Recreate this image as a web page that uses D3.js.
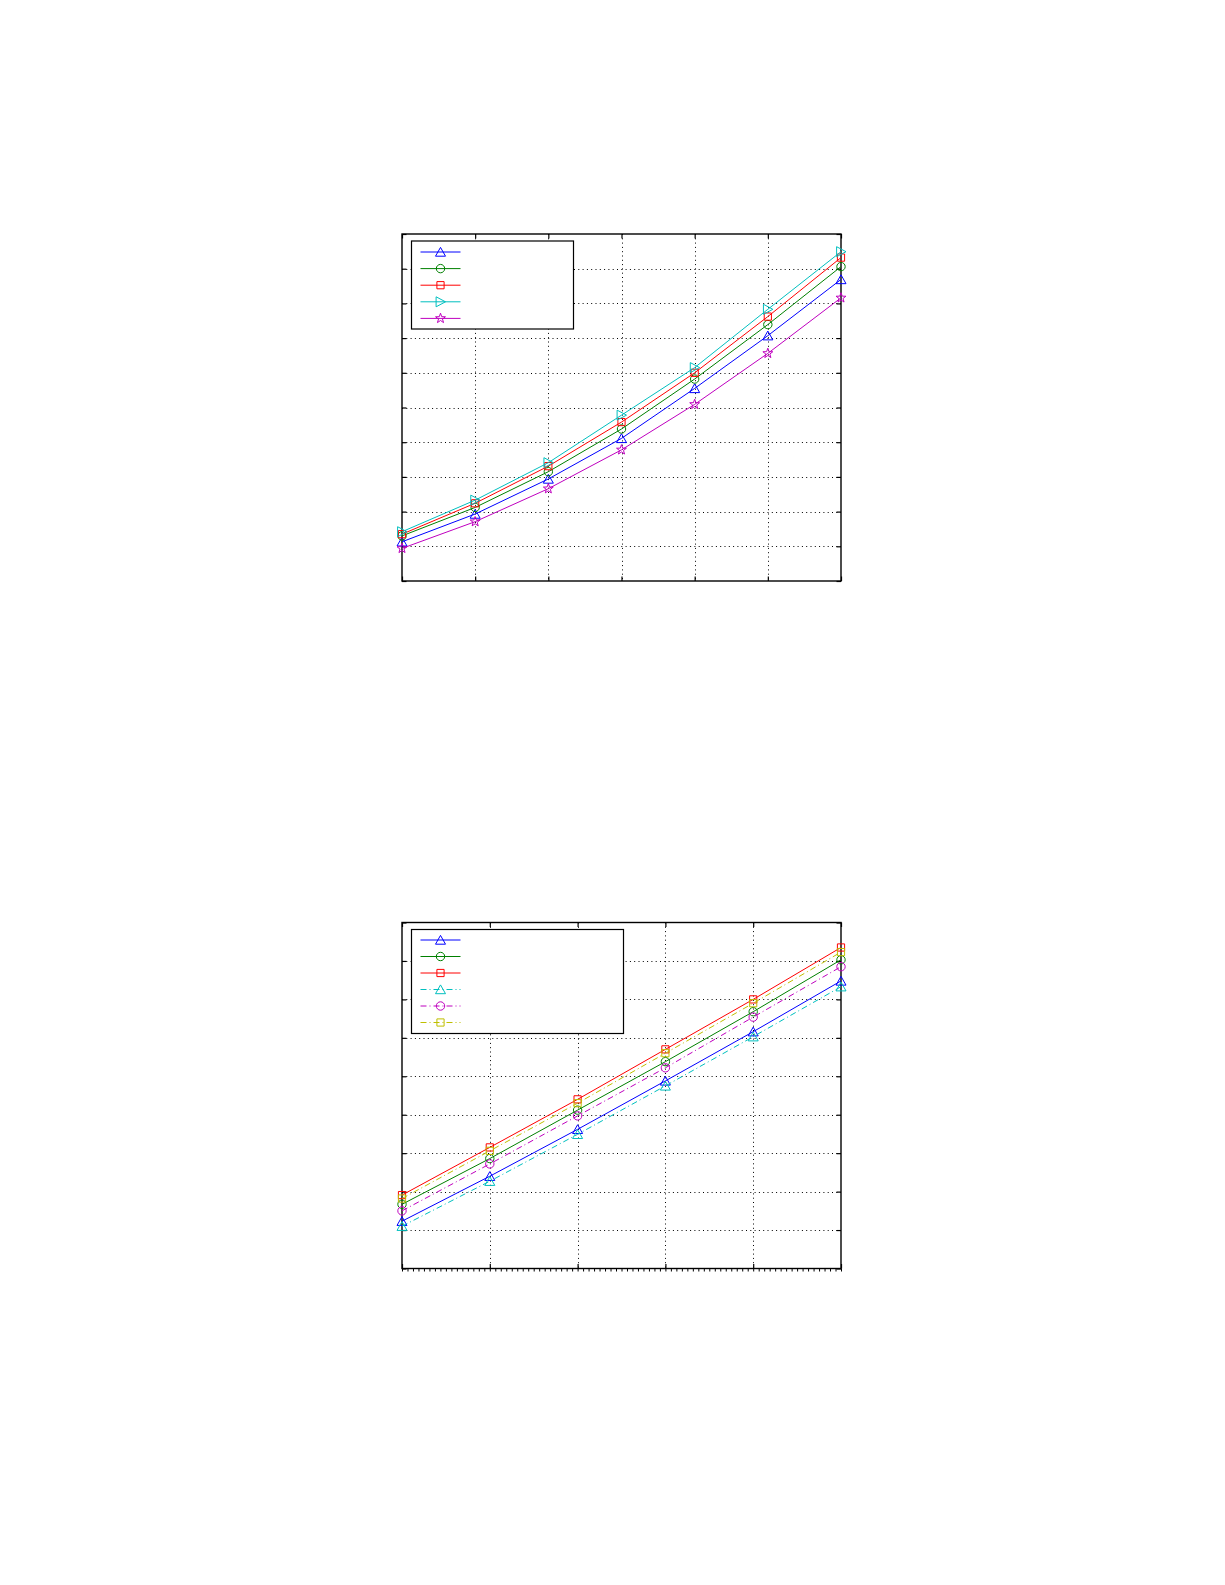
<!DOCTYPE html>
<html><head><meta charset="utf-8">
<script src="https://cdn.jsdelivr.net/npm/d3@7"></script>
<style>html,body{margin:0;padding:0;background:#fff}svg{display:block}</style>
</head><body>
<script>
// ---------- data ----------
const topX = [0, 1, 2, 3, 4, 5, 6];
const topBlue    = [1.13, 1.93, 2.94, 4.11, 5.55, 7.07, 8.69];
const topGreen   = [1.30, 2.12, 3.15, 4.38, 5.82, 7.39, 9.06];
const topRed     = [1.35, 2.24, 3.31, 4.58, 6.00, 7.62, 9.32];
const topCyan    = [1.42, 2.33, 3.41, 4.78, 6.15, 7.83, 9.49];
const topMagenta = [0.94, 1.71, 2.66, 3.78, 5.09, 6.56, 8.16];
const topXTicks = [0, 1, 2, 3, 4, 5, 6];
const topYTicks = [0, 1, 2, 3, 4, 5, 6, 7, 8, 9, 10];

const botX = [0, 1, 2, 3, 4, 5];
const botBlue    = [1.23, 2.40, 3.62, 4.88, 6.16, 7.48];
const botGreen   = [1.67, 2.86, 4.12, 5.38, 6.68, 8.03];
const botRed     = [1.91, 3.15, 4.40, 5.70, 7.00, 8.35];
const botCyan    = [1.10, 2.27, 3.49, 4.75, 6.03, 7.33];
const botMagenta = [1.50, 2.72, 3.97, 5.22, 6.54, 7.85];
const botYellow  = [1.82, 3.06, 4.30, 5.60, 6.90, 8.23];
const botXTicks = [0, 1, 2, 3, 4, 5];
const botYTicks = [0, 1, 2, 3, 4, 5, 6, 7, 8, 9];

// ---------- styles ----------
const C = {blue:"#0000ff", green:"#008000", red:"#ff0000", cyan:"#00bfbf", magenta:"#bf00bf", yellow:"#bfbf00"};
const DASHDOT = "6,3,1,3";

const markers = {
  triUp: "M0,-4.6L5,4.2L-5,4.2Z",
  triRight: "M5,0L-4.4,-5L-4.4,5Z",
  square: "M-3.6,-3.6H3.6V3.6H-3.6Z",
  circle: d3.symbol(d3.symbolCircle, Math.PI*4.2*4.2)(),
  star: (function(){ const p=d3.path(); for(let i=0;i<10;i++){const r=i%2?2.1:5.2; const a=-Math.PI/2+i*Math.PI/5; const x=r*Math.cos(a), y=r*Math.sin(a); i?p.lineTo(x,y):p.moveTo(x,y);} p.closePath(); return p.toString(); })()
};

const topSeries = [
  {v: topBlue,    color: C.blue,    marker: "triUp",    dash: null},
  {v: topGreen,   color: C.green,   marker: "circle",   dash: null},
  {v: topRed,     color: C.red,     marker: "square",   dash: null},
  {v: topCyan,    color: C.cyan,    marker: "triRight", dash: null},
  {v: topMagenta, color: C.magenta, marker: "star",     dash: null}
];
const botSeries = [
  {v: botBlue,    color: C.blue,    marker: "triUp",  dash: null},
  {v: botGreen,   color: C.green,   marker: "circle", dash: null},
  {v: botRed,     color: C.red,     marker: "square", dash: null},
  {v: botCyan,    color: C.cyan,    marker: "triUp",  dash: DASHDOT},
  {v: botMagenta, color: C.magenta, marker: "circle", dash: DASHDOT},
  {v: botYellow,  color: C.yellow,  marker: "square", dash: DASHDOT}
];

const svg = d3.select("body").append("svg").attr("width",1225).attr("height",1585);
svg.append("rect").attr("width",1225).attr("height",1585).attr("fill","#fff");

function drawChart(opt){
  const {left,right,top,bottom,xs,xTicks,yTicks,series,legend,minor} = opt;
  const x = d3.scaleLinear().domain(d3.extent(xTicks)).range([left,right]);
  const y = d3.scaleLinear().domain(d3.extent(yTicks)).range([bottom,top]);
  const g = svg.append("g");
  // grid
  const grid = g.append("g").attr("stroke","#000").attr("stroke-width",1).attr("stroke-dasharray","1,3.3");
  grid.selectAll(".gx").data(xTicks.slice(1,-1)).join("line")
    .attr("x1",d=>Math.round(x(d))+0.5).attr("x2",d=>Math.round(x(d))+0.5).attr("y1",top).attr("y2",bottom);
  grid.selectAll(".gy").data(yTicks.slice(1,-1)).join("line")
    .attr("y1",d=>Math.round(y(d))+0.5).attr("y2",d=>Math.round(y(d))+0.5).attr("x1",left).attr("x2",right);
  // axes with inward ticks on all sides
  const tl = 4.5;
  g.append("g").attr("transform",`translate(0,${bottom})`).call(d3.axisBottom(x).tickValues(xTicks).tickSize(-tl).tickFormat(""));
  g.append("g").attr("transform",`translate(0,${top})`).call(d3.axisTop(x).tickValues(xTicks).tickSize(-tl).tickFormat(""));
  g.append("g").attr("transform",`translate(${left},0)`).call(d3.axisLeft(y).tickValues(yTicks).tickSize(-tl).tickFormat(""));
  g.append("g").attr("transform",`translate(${right},0)`).call(d3.axisRight(y).tickValues(yTicks).tickSize(-tl).tickFormat(""));
  g.selectAll(".domain").remove();
  g.selectAll(".tick line").attr("stroke","#000").attr("stroke-width",1.2);
  if(minor){
    const mt = d3.range(xTicks[0], xTicks[xTicks.length-1]+1e-9, 1/minor);
    g.append("g").attr("transform",`translate(0,${bottom})`).call(d3.axisBottom(x).tickValues(mt).tickSize(3).tickFormat(""))
      .call(a=>a.select(".domain").remove()).selectAll(".tick line").attr("stroke","#000").attr("stroke-width",1);
  }
  g.append("rect").attr("x",left).attr("y",top).attr("width",right-left).attr("height",bottom-top)
    .attr("fill","none").attr("stroke","#000").attr("stroke-width",1.4);
  // series
  const line = d3.line().x((d,i)=>x(xs[i])).y(d=>y(d));
  series.forEach(s=>{
    g.append("path").datum(s.v).attr("d",line).attr("fill","none").attr("stroke",s.color)
      .attr("stroke-width",1).attr("stroke-dasharray",s.dash);
    g.selectAll(null).data(s.v).join("path")
      .attr("d",markers[s.marker]).attr("transform",(d,i)=>`translate(${x(xs[i])},${y(d)})`)
      .attr("fill","none").attr("stroke",s.color).attr("stroke-width",1);
  });
  // legend (no labels)
  const L = legend;
  const lg = g.append("g");
  lg.append("rect").attr("x",L.x).attr("y",L.y).attr("width",L.w).attr("height",L.h)
    .attr("fill","#fff").attr("stroke","#000").attr("stroke-width",1.2);
  series.forEach((s,i)=>{
    const yy = L.y + L.first + i*L.step;
    lg.append("line").attr("x1",L.x+9).attr("x2",L.x+49).attr("y1",yy).attr("y2",yy)
      .attr("stroke",s.color).attr("stroke-width",1).attr("stroke-dasharray",s.dash);
    lg.append("path").attr("d",markers[s.marker]).attr("transform",`translate(${L.x+29},${yy})`)
      .attr("fill","none").attr("stroke",s.color).attr("stroke-width",1);
  });
}

drawChart({left:402,right:841,top:234,bottom:581,xs:topX,xTicks:topXTicks,yTicks:topYTicks,
  series:topSeries,legend:{x:411.5,y:241,w:162,h:88,first:11,step:16.6}});
drawChart({left:402,right:841,top:922.5,bottom:1268.5,xs:botX,xTicks:botXTicks,yTicks:botYTicks,
  series:botSeries,legend:{x:411.5,y:929.5,w:212,h:104,first:10.5,step:16.5},minor:16});
</script>
</body></html>
